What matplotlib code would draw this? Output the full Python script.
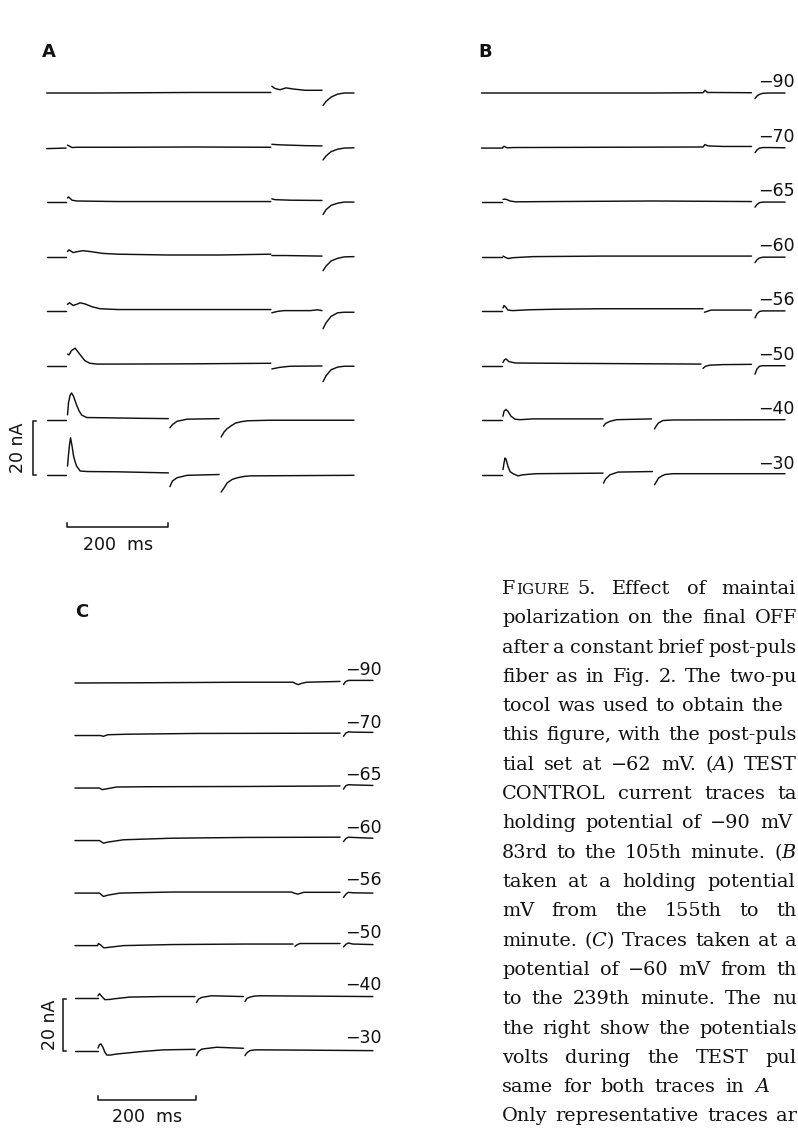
import matplotlib.pyplot as plt

LARGURA, ALTURA, DPI = 798, 1128, 100
COR = "#111111"

# potenciais do pulso TEST (mV), um por traco, de cima para baixo
rotulos_mv = ["−90", "−70", "−65", "−60", "−56", "−50", "−40", "−30"]

# cada traco: lista de segmentos (tempo em ms, corrente em nA)
# os intervalos entre segmentos sao os transientes apagados
A1 = [([-40, 60, 150, 250, 350, 402], [0.0, 0.0, 0.1, 0.2, 0.2, 0.2]),
      ([404, 410, 420, 432, 445, 470, 503], [2.5, 1.7, 1.2, 1.9, 1.5, 1.0, 1.0]),
      ([505, 511, 521, 534, 547, 566], [-4.6, -3.1, -1.5, -0.4, 0.0, 0.0])]
A2 = [([-40, -2], [-0.4, -0.2]),
      ([1, 4, 10, 20, 100, 250, 402], [0.9, 0.6, 0.0, 0.1, 0.1, 0.2, 0.1]),
      ([404, 420, 470, 503], [1.2, 1.0, 0.7, 0.6]),
      ([505, 511, 521, 534, 547, 566], [-4.6, -3.1, -1.5, -0.6, -0.2, -0.1])]
A3 = [([-40, -2], [0.0, 0.0]),
      ([1, 3, 10, 20, 100, 402], [1.5, 1.9, 0.7, 0.4, 0.2, 0.2]),
      ([404, 410, 440, 503], [1.2, 0.9, 0.7, 0.6]),
      ([505, 511, 521, 534, 547, 566], [-4.6, -2.8, -1.2, -0.4, 0.0, 0.0])]
A4 = [([-40, -2], [0.0, 0.0]),
      ([1, 4, 12, 22, 32, 45, 70, 100, 200, 300, 402],
       [1.9, 2.5, 1.5, 1.9, 2.2, 1.9, 1.2, 0.9, 0.6, 0.6, 0.9]),
      ([404, 430, 503], [0.4, 0.4, 0.2]),
      ([505, 511, 521, 534, 547, 566], [-5.2, -3.5, -1.6, -0.6, -0.1, 0.0])]
A5 = [([-40, -2], [0.0, 0.0]),
      ([1, 5, 12, 20, 26, 35, 50, 65, 100, 250, 402],
       [2.5, 3.1, 2.1, 2.6, 3.1, 2.7, 1.6, 0.9, 0.6, 0.6, 0.6]),
      ([404, 415, 428, 480, 494, 503], [-0.6, -0.1, 0.2, 0.2, 0.5, 0.2]),
      ([505, 511, 521, 534, 547, 566], [-6.5, -4.3, -1.9, -0.6, -0.4, -0.4])]
A6 = [([-40, -2], [0.0, 0.0]),
      ([1, 4, 9, 16, 25, 35, 45, 60, 100, 250, 402],
       [4.3, 4.0, 5.6, 6.5, 4.3, 1.9, 0.9, 0.6, 0.6, 0.7, 0.9]),
      ([404, 420, 440, 503], [-1.2, -0.6, -0.2, -0.1]),
      ([505, 511, 521, 534, 547, 566], [-5.9, -3.7, -1.5, -0.5, -0.2, -0.2])]
A7 = [([-40, -2], [0.0, 0.0]),
      ([1, 3, 6, 9, 13, 19, 24, 29, 39, 80, 150, 200],
       [2.0, 6.5, 9.2, 10.1, 8.8, 5.6, 3.4, 1.9, 1.0, 0.9, 0.7, 0.6]),
      ([203, 208, 217, 237, 270, 300], [-2.8, -1.6, -0.4, 0.4, 0.5, 0.6]),
      ([304, 310, 316, 325, 333, 345, 356, 400, 566],
       [-6.2, -4.3, -3.1, -1.9, -1.0, -0.5, -0.2, 0.0, 0.0])]
A8 = [([-40, -2], [0.0, 0.0]),
      ([1, 3, 5, 7, 10, 13, 16, 19, 26, 40, 100, 200],
       [3.2, 7.5, 11.2, 13.7, 10.6, 6.9, 4.8, 3.2, 1.4, 1.2, 1.1, 0.7]),
      ([203, 208, 217, 237, 300], [-4.4, -2.3, -1.1, -0.2, 0.1]),
      ([304, 310, 316, 326, 336, 350, 362, 566],
       [-6.4, -4.8, -3.0, -1.7, -1.1, -0.6, -0.4, -0.2])]

B1 = [([-43, 100, 300, 400, 404, 409, 497], [0.0, 0.0, 0.0, 0.1, 1.0, 0.2, 0.1]),
      ([504, 508, 513, 520, 534, 564], [-2.1, -1.1, -0.5, -0.1, 0.0, 0.0])]
B2 = [([-43, -1, 1, 3, 8, 20, 200, 400, 404, 410, 440, 497],
       [-0.2, -0.2, 0.4, 0.4, -0.1, 0.0, 0.1, 0.2, 1.1, 0.6, 0.4, 0.4]),
      ([504, 508, 513, 520, 534, 564], [-1.9, -0.9, -0.2, 0.0, 0.0, -0.1])]
B3 = [([-43, -3], [0.0, 0.0]),
      ([0, 4, 8, 14, 25, 100, 300, 497], [1.0, 1.1, 0.9, 0.4, 0.1, 0.2, 0.4, 0.2]),
      ([504, 508, 513, 520, 534, 564], [-1.9, -0.9, -0.2, 0.0, 0.0, 0.0])]
B4 = [([-43, -3], [0.0, 0.0]),
      ([0, 4, 10, 20, 60, 200, 497], [0.2, -0.2, -0.7, -0.4, 0.0, 0.2, 0.2]),
      ([504, 508, 513, 520, 534, 564], [-2.2, -1.2, -0.5, -0.2, -0.2, -0.2])]
B5 = [([-43, -3], [0.0, 0.0]),
      ([0, 2, 5, 10, 20, 50, 100, 200, 400], [1.2, 2.1, 1.6, 0.4, 0.2, 0.5, 0.7, 0.9, 0.9]),
      ([403, 408, 416, 440, 497], [-0.4, -0.1, 0.4, 0.4, 0.4]),
      ([504, 508, 513, 520, 534, 564], [-2.5, -1.0, -0.1, 0.1, 0.1, 0.1])]
B6 = [([-43, -3], [0.0, 0.0]),
      ([0, 3, 6, 12, 25, 100, 300, 396], [1.2, 2.2, 2.5, 1.5, 1.0, 0.9, 0.7, 0.6]),
      ([400, 405, 414, 440, 497], [-1.0, -0.2, 0.2, 0.4, 0.5]),
      ([504, 508, 513, 520, 534, 564], [-3.1, -1.2, -0.2, 0.0, 0.0, 0.0])]
B7 = [([-43, -3], [0.0, 0.0]),
      ([0, 2, 6, 10, 16, 24, 34, 60, 200], [1.5, 3.3, 4.0, 3.3, 1.5, 0.4, 0.2, 0.5, 0.5]),
      ([201, 205, 214, 227, 297], [-2.2, -1.2, -0.4, 0.2, 0.5]),
      ([303, 307, 311, 320, 340, 564], [-3.2, -2.0, -1.0, -0.1, 0.1, 0.2])]
B8 = [([-43, -3], [0.0, 0.0]),
      ([0, 2, 4, 6, 10, 14, 20, 30, 40, 66, 200],
       [1.9, 4.3, 6.2, 5.8, 3.1, 1.2, 0.4, -0.4, 0.0, 0.4, 0.6]),
      ([201, 205, 214, 230, 299], [-3.1, -1.6, 0.0, 1.0, 1.2]),
      ([303, 307, 311, 318, 324, 340, 564], [-3.7, -2.5, -1.2, -0.4, 0.1, 0.4, 0.4])]

C1 = [([-47, 100, 300, 398, 404, 409, 416, 426, 494],
       [0.0, 0.1, 0.3, 0.3, -0.3, -0.6, -0.1, 0.3, 0.6]),
      ([501, 505, 511, 520, 561], [-0.6, 0.5, 1.0, 1.0, 1.0])]
C2 = [([-47, 5, 11, 20, 60, 200, 494], [0.0, 0.0, -0.3, 0.3, 0.5, 0.8, 0.9]),
      ([501, 506, 511, 520, 561], [-0.3, 1.0, 1.4, 1.3, 1.2])]
C3 = [([-47, 3, 8, 15, 38, 100, 300, 494], [0.0, 0.0, -0.6, -0.4, 0.4, 0.5, 0.6, 0.8]),
      ([501, 506, 511, 520, 561], [-0.4, 0.9, 1.3, 1.2, 1.0])]
C4 = [([-47, 3, 11, 20, 52, 150, 300, 494], [0.0, 0.0, -1.0, -0.6, 0.3, 0.9, 1.2, 1.3]),
      ([501, 506, 511, 520, 561], [-0.4, 0.8, 1.3, 1.2, 0.9])]
C5 = [([-47, 3, 11, 20, 45, 150, 395, 400, 408, 420, 494],
       [0.0, 0.0, -1.3, -0.8, 0.0, 0.4, 0.4, 0.0, -0.4, 0.3, 0.3]),
      ([501, 506, 511, 520, 561], [-1.7, -0.4, 0.3, 0.1, 0.0])]
C6 = [([-47, -1, 1, 5, 12, 25, 52, 150, 300, 398],
       [0.0, 0.0, 0.8, 0.3, -0.9, -0.6, 0.0, 0.4, 0.6, 0.6]),
      ([402, 406, 412, 430, 494], [-0.3, 0.3, 0.8, 0.8, 0.8]),
      ([501, 506, 511, 520, 561], [-0.5, 0.5, 1.0, 0.6, 0.4])]
C7 = [([-47, -1], [0.0, 0.0]),
      ([0, 3, 8, 14, 25, 31, 65, 130, 198], [0.9, 1.7, 0.6, -0.6, -0.5, -0.3, 0.4, 0.6, 0.6]),
      ([201, 205, 212, 232, 297], [-1.7, -0.4, 0.3, 0.9, 0.6]),
      ([300, 304, 310, 320, 331, 561], [-1.3, -0.1, 0.4, 0.8, 0.9, 0.6])]
C8 = [([-47, -1], [0.0, 0.0]),
      ([0, 3, 6, 10, 14, 18, 25, 38, 65, 86, 133, 198],
       [1.0, 2.3, 2.6, 1.3, -0.6, -1.7, -1.7, -1.3, -0.8, -0.4, 0.3, 0.5]),
      ([201, 205, 212, 242, 297], [-1.9, -0.3, 0.6, 1.3, 0.9]),
      ([300, 304, 310, 320, 337, 561], [-1.9, -0.8, 0.0, 0.3, 0.3, 0.0])]

tracos_a = [A1, A2, A3, A4, A5, A6, A7, A8]
tracos_b = [B1, B2, B3, B4, B5, B6, B7, B8]
tracos_c = [C1, C2, C3, C4, C5, C6, C7, C8]

# texto da legenda ate a margem da pagina (a coluna continua alem dela)
legenda = [
    "5. Effect of maintai",
    "polarization on the final OFF",
    "after a constant brief post-puls",
    "fiber as in Fig. 2. The two-pu",
    "tocol was used to obtain the",
    "this figure, with the post-puls",
    "tial set at −62 mV. ($\\mathit{A}$) TEST",
    "CONTROL current traces ta",
    "holding potential of −90 mV",
    "83rd to the 105th minute. ($\\mathit{B}$",
    "taken at a holding potential",
    "mV from the 155th to th",
    "minute. ($\\mathit{C}$) Traces taken at a",
    "potential of −60 mV from th",
    "to the 239th minute. The nu",
    "the right show the potentials",
    "volts during the TEST pul",
    "same for both traces in $\\mathit{A}$",
    "Only representative traces ar",
]
# onde termina cada linha visivel (px)
fim_linha = [796, 797, 797, 797, 783, 797, 797, 797, 792, 797,
             795, 797, 797, 797, 797, 797, 797, 770, 797]

ESPACAMENTO = 20.2  # nA entre tracos sucessivos


def criar_eixo(fig, x_zero, px_ms, y_zero, px_na):
    # eixo do tamanho da figura: t=0 cai em x_zero, corrente 0 do 1o traco em y_zero
    ax = fig.add_axes([0, 0, 1, 1])
    ax.set_xlim(-x_zero / px_ms, (LARGURA - x_zero) / px_ms)
    ax.set_ylim((y_zero - ALTURA) / px_na, y_zero / px_na)
    ax.axis("off")
    ax.patch.set_alpha(0)
    return ax


def desenhar_tracos(ax, tracos):
    for k, traco in enumerate(tracos):
        base = -k * ESPACAMENTO
        for tempos, correntes in traco:
            ax.plot(tempos, [base + c for c in correntes], color=COR, lw=1.05,
                    solid_joinstyle="round", solid_capstyle="round")


def desenhar_rotulos(ax, x, acima):
    for k, rotulo in enumerate(rotulos_mv):
        ax.text(x, -k * ESPACAMENTO + acima, rotulo, ha="left", va="baseline",
                fontsize=12.5, color=COR)


def barras_escala(ax, x_barra, y_barra, x_texto_na, y_texto_ms):
    # colchete de 20 nA entre os dois ultimos tracos
    base = -7 * ESPACAMENTO
    ax.plot([x_barra + 6, x_barra, x_barra, x_barra + 6],
            [base + 20, base + 20, base, base], color=COR, lw=1.1)
    ax.text(x_texto_na, base + 10, "20 nA", rotation=90, ha="center", va="center",
            fontsize=12.5, color=COR)
    # barra de 200 ms
    ax.plot([0, 0, 200, 200], [y_barra + 1.5, y_barra, y_barra, y_barra + 1.5],
            color=COR, lw=1.1)
    ax.text(100, y_texto_ms, "200  ms", ha="center", va="center", fontsize=12.5,
            color=COR)


def px(x, y):
    return x / LARGURA, 1 - y / ALTURA


def escrever_justificada(fig, renderer, linha, y, x_ini, x_fim, tamanho, estilo):
    # distribui as palavras entre x_ini e x_fim, como na coluna justificada
    palavras = linha.split(" ")
    while True:
        textos = [fig.text(*px(x_ini, y), p, fontsize=tamanho, **estilo) for p in palavras]
        larguras = [t.get_window_extent(renderer).width for t in textos]
        folga = (x_fim - x_ini - sum(larguras)) / max(len(palavras) - 1, 1)
        if folga >= 4.5 or tamanho < 12:
            break
        for t in textos:
            t.remove()
        tamanho *= 0.985
    x = x_ini
    for t, w in zip(textos, larguras):
        t.set_position(px(x, y))
        x += w + folga


plt.rcParams["font.family"] = ["DejaVu Sans"]
plt.rcParams["mathtext.fontset"] = "dejavuserif"

fig = plt.figure(figsize=(LARGURA / DPI, ALTURA / DPI), dpi=DPI)
fig.patch.set_facecolor("white")

ax_a = criar_eixo(fig, 67, 0.507, 93, 2.7)
ax_b = criar_eixo(fig, 503, 0.5, 93, 2.7)
ax_c = criar_eixo(fig, 98, 0.49, 683, 2.6)

desenhar_tracos(ax_a, tracos_a)
desenhar_tracos(ax_b, tracos_b)
desenhar_tracos(ax_c, tracos_c)

desenhar_rotulos(ax_b, 510, 2.2)
desenhar_rotulos(ax_c, 504, 3.0)

barras_escala(ax_a, -68, -160.7, -96, -167.5)
barras_escala(ax_c, -72, -160.4, -98, -167.0)

for letra, (x, y) in zip("ABC", [(42, 52), (478, 52), (75, 612)]):
    fig.text(*px(x, y), letra, ha="left", va="center", fontsize=13,
             fontweight="bold", color=COR)

# legenda da figura, com "Figure" em versalete
renderer = fig.canvas.get_renderer()
X_LEG, Y_LEG, ENTRELINHA, CORPO = 502, 594, 29.3, 13.9
estilo = dict(family="DejaVu Serif", va="baseline", ha="left", color=COR)
t_f = fig.text(*px(X_LEG, Y_LEG), "F", fontsize=CORPO, **estilo)
x = X_LEG + t_f.get_window_extent(renderer).width + 0.5
t_igure = fig.text(*px(x, Y_LEG), "IGURE", fontsize=10.9, **estilo)
x += t_igure.get_window_extent(renderer).width + 8
escrever_justificada(fig, renderer, legenda[0], Y_LEG, x, fim_linha[0], CORPO, estilo)
for i in range(1, len(legenda)):
    escrever_justificada(fig, renderer, legenda[i], Y_LEG + i * ENTRELINHA,
                         X_LEG, fim_linha[i], CORPO, estilo)

fig.savefig("out.png", dpi=DPI, facecolor="white")
